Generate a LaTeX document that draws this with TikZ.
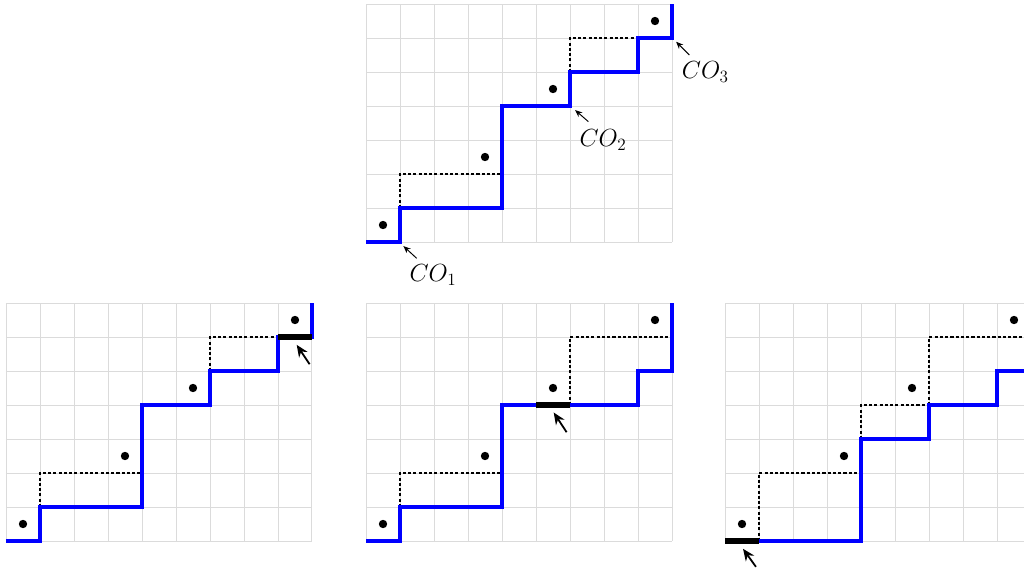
\documentclass[tikz,border=0pt]{standalone}
\usetikzlibrary{arrows.meta}
\tikzset{
  gridline/.style={line width=0.8pt, draw=black!14},
  bluepath/.style={line width=2.6pt, draw=blue},
  dotpath/.style={line width=1.9pt, dash pattern=on 2.6pt off 1.8pt},
  blackseg/.style={line width=4.2pt, draw=black},
  pt/.style={circle, fill=black, inner sep=0pt, minimum size=7pt},
  lblarrow/.style={-{Stealth[length=6pt,width=5pt]}, line width=0.8pt},
  bigarrow/.style={-{Stealth[length=10pt,width=8.5pt]}, line width=1.5pt},
  lbl/.style={font=\huge, inner sep=0pt}
}
\begin{document}
\begin{tikzpicture}
\useasboundingbox (0,0) rectangle (30.118,16.794);
\clip (0,0) rectangle (30.118,16.794);

% ---------- top grid ----------
\begin{scope}[shift={(10.765,9.676)}]
  \draw[gridline] (0,0) grid (9,7);
  \draw[dotpath] (1,1) |- (4,2);
  \draw[dotpath] (6,5) |- (8,6);
  \draw[bluepath] (0,0) -| (1,1) -| (4,4) -| (6,5) -| (8,6) -| (9,7);
  \node[pt] (t1) at (0.5,0.5) {};
  \node[pt] (t2) at (3.5,2.5) {};
  \node[pt] (t3) at (5.5,4.5) {};
  \node[pt] (t4) at (8.5,6.5) {};
  \node[lbl] (co1) at (1.97,-0.97) {$CO_1$};
  \coordinate (co1a) at (1.49,-0.48);
  \coordinate (co1b) at (1.10,-0.12);
  \draw[lblarrow] (co1a) -- (co1b);
  \node[lbl] (co2) at (6.97,3.0) {$CO_2$};
  \coordinate (co2a) at (6.54,3.54);
  \coordinate (co2b) at (6.15,3.88);
  \draw[lblarrow] (co2a) -- (co2b);
  \node[lbl] (co3) at (9.98,5.0) {$CO_3$};
  \coordinate (co3a) at (9.51,5.50);
  \coordinate (co3b) at (9.12,5.89);
  \draw[lblarrow] (co3a) -- (co3b);
\end{scope}

% ---------- bottom left grid ----------
\begin{scope}[shift={(0.176,0.882)}]
  \draw[gridline] (0,0) grid (9,7);
  \draw[dotpath] (1,1) |- (4,2);
  \draw[dotpath] (6,5) |- (8,6);
  \draw[bluepath] (0,0) -| (1,1) -| (4,4) -| (6,5) -| (8,6) -| (9,7);
  \draw[blackseg] (8,6) -- (9,6);
  \node[pt] (a1) at (0.5,0.5) {};
  \node[pt] (a2) at (3.5,2.5) {};
  \node[pt] (a3) at (5.5,4.5) {};
  \node[pt] (a4) at (8.5,6.5) {};
  \coordinate (aa) at (8.93,5.20);
  \coordinate (ab) at (8.55,5.77);
  \draw[bigarrow] (aa) -- (ab);
\end{scope}

% ---------- bottom middle grid ----------
\begin{scope}[shift={(10.765,0.882)}]
  \draw[gridline] (0,0) grid (9,7);
  \draw[dotpath] (1,1) |- (4,2);
  \draw[dotpath] (6,4) |- (9,6);
  \draw[bluepath] (0,0) -| (1,1) -| (4,4) -| (8,5) -| (9,7);
  \draw[blackseg] (5,4) -- (6,4);
  \node[pt] (b1) at (0.5,0.5) {};
  \node[pt] (b2) at (3.5,2.5) {};
  \node[pt] (b3) at (5.5,4.5) {};
  \node[pt] (b4) at (8.5,6.5) {};
  \coordinate (ba) at (5.90,3.20);
  \coordinate (bb) at (5.52,3.78);
  \draw[bigarrow] (ba) -- (bb);
\end{scope}

% ---------- bottom right grid ----------
\begin{scope}[shift={(21.324,0.882)}]
  \draw[gridline] (0,0) grid (9,7);
  \draw[dotpath] (1,0) |- (4,2);
  \draw[dotpath] (4,3) |- (6,4);
  \draw[dotpath] (6,4) |- (9,6);
  \draw[bluepath] (1,0) -| (4,3) -| (6,4) -| (8,5) -| (9,7);
  \draw[blackseg] (0,0) -- (1,0);
  \node[pt] (c1) at (0.5,0.5) {};
  \node[pt] (c2) at (3.5,2.5) {};
  \node[pt] (c3) at (5.5,4.5) {};
  \node[pt] (c4) at (8.5,6.5) {};
  \coordinate (ca) at (0.91,-0.76);
  \coordinate (cb) at (0.53,-0.23);
  \draw[bigarrow] (ca) -- (cb);
\end{scope}
\end{tikzpicture}
\end{document}
